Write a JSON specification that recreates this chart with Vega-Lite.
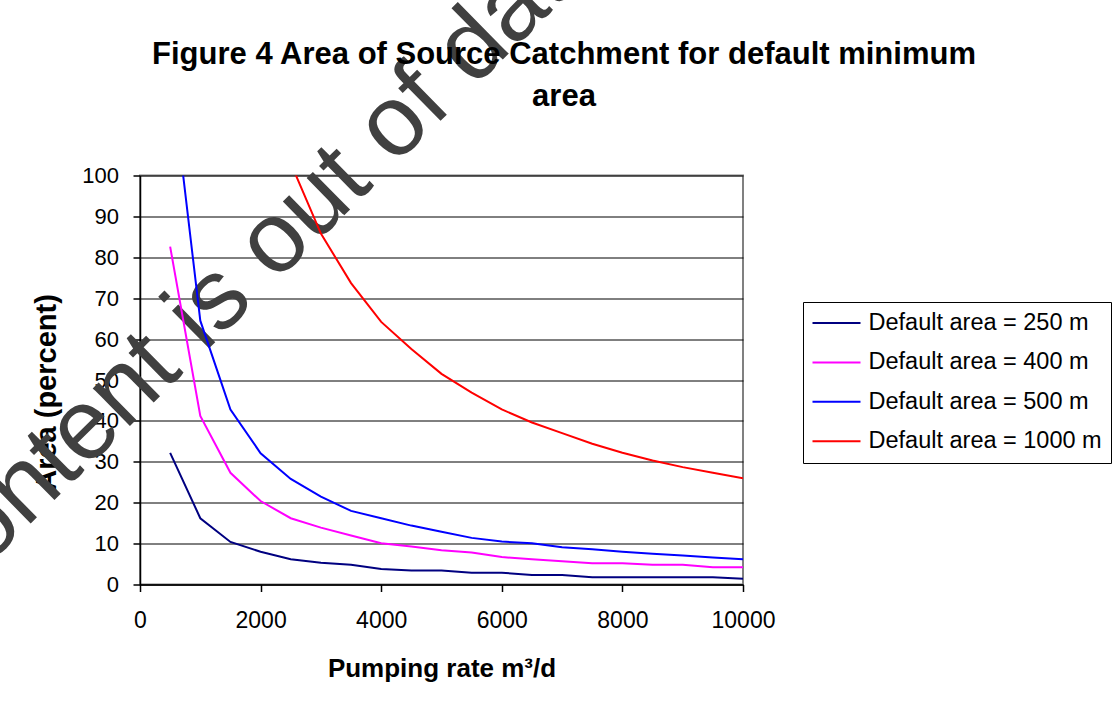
{
  "$schema": "https://vega.github.io/schema/vega-lite/v6.json",
  "width": 603,
  "height": 409,
  "autosize": {"type": "none"},
  "padding": {"left": 140, "top": 175.5, "right": 377, "bottom": 126.5},
  "background": "white",
  "title": {
    "text": ["Figure 4 Area of Source Catchment for default minimum", "area"],
    "font": "Liberation Sans",
    "fontSize": 31,
    "fontWeight": "bold",
    "color": "black",
    "lineHeight": 42,
    "anchor": "middle",
    "frame": "group",
    "dx": 122.5,
    "offset": -219
  },
  "config": {
    "view": {"stroke": "#808080", "strokeWidth": 2},
    "font": "Liberation Sans"
  },
  "layer": [
    {
      "data": {"values": [{"label": "Content is out of date"}]},
      "mark": {"type": "text", "font": "Liberation Sans", "fontSize": 100, "angle": -44.5, "align": "center", "baseline": "alphabetic", "color": "#404040"},
      "encoding": {
        "x": {"datum": 2216, "type": "quantitative"},
        "y": {"datum": 73.3, "type": "quantitative"},
        "text": {"field": "label"}
      }
    },
    {
      "data": {"values": [
        {"series": "Default area = 250 m", "rate": 500, "area": 32.2},
        {"series": "Default area = 250 m", "rate": 1000, "area": 16.2},
        {"series": "Default area = 250 m", "rate": 1500, "area": 10.4},
        {"series": "Default area = 250 m", "rate": 2000, "area": 8.0},
        {"series": "Default area = 250 m", "rate": 2500, "area": 6.2},
        {"series": "Default area = 250 m", "rate": 3000, "area": 5.3},
        {"series": "Default area = 250 m", "rate": 3500, "area": 4.8},
        {"series": "Default area = 250 m", "rate": 4000, "area": 3.8},
        {"series": "Default area = 250 m", "rate": 4500, "area": 3.4},
        {"series": "Default area = 250 m", "rate": 5000, "area": 3.4},
        {"series": "Default area = 250 m", "rate": 5500, "area": 2.9},
        {"series": "Default area = 250 m", "rate": 6000, "area": 2.9},
        {"series": "Default area = 250 m", "rate": 6500, "area": 2.3},
        {"series": "Default area = 250 m", "rate": 7000, "area": 2.3},
        {"series": "Default area = 250 m", "rate": 7500, "area": 1.8},
        {"series": "Default area = 250 m", "rate": 8000, "area": 1.8},
        {"series": "Default area = 250 m", "rate": 8500, "area": 1.8},
        {"series": "Default area = 250 m", "rate": 9000, "area": 1.8},
        {"series": "Default area = 250 m", "rate": 9500, "area": 1.8},
        {"series": "Default area = 250 m", "rate": 10000, "area": 1.4},
        {"series": "Default area = 400 m", "rate": 500, "area": 82.6},
        {"series": "Default area = 400 m", "rate": 1000, "area": 41.2},
        {"series": "Default area = 400 m", "rate": 1500, "area": 27.3},
        {"series": "Default area = 400 m", "rate": 2000, "area": 20.4},
        {"series": "Default area = 400 m", "rate": 2500, "area": 16.2},
        {"series": "Default area = 400 m", "rate": 3000, "area": 13.9},
        {"series": "Default area = 400 m", "rate": 3500, "area": 12.0},
        {"series": "Default area = 400 m", "rate": 4000, "area": 10.1},
        {"series": "Default area = 400 m", "rate": 4500, "area": 9.3},
        {"series": "Default area = 400 m", "rate": 5000, "area": 8.4},
        {"series": "Default area = 400 m", "rate": 5500, "area": 7.8},
        {"series": "Default area = 400 m", "rate": 6000, "area": 6.7},
        {"series": "Default area = 400 m", "rate": 6500, "area": 6.2},
        {"series": "Default area = 400 m", "rate": 7000, "area": 5.7},
        {"series": "Default area = 400 m", "rate": 7500, "area": 5.2},
        {"series": "Default area = 400 m", "rate": 8000, "area": 5.2},
        {"series": "Default area = 400 m", "rate": 8500, "area": 4.8},
        {"series": "Default area = 400 m", "rate": 9000, "area": 4.8},
        {"series": "Default area = 400 m", "rate": 9500, "area": 4.2},
        {"series": "Default area = 400 m", "rate": 10000, "area": 4.2},
        {"series": "Default area = 500 m", "rate": 500, "area": 127},
        {"series": "Default area = 500 m", "rate": 1000, "area": 64.5},
        {"series": "Default area = 500 m", "rate": 1500, "area": 42.8},
        {"series": "Default area = 500 m", "rate": 2000, "area": 32.1},
        {"series": "Default area = 500 m", "rate": 2500, "area": 25.8},
        {"series": "Default area = 500 m", "rate": 3000, "area": 21.5},
        {"series": "Default area = 500 m", "rate": 3500, "area": 18.0},
        {"series": "Default area = 500 m", "rate": 4000, "area": 16.2},
        {"series": "Default area = 500 m", "rate": 4500, "area": 14.4},
        {"series": "Default area = 500 m", "rate": 5000, "area": 12.9},
        {"series": "Default area = 500 m", "rate": 5500, "area": 11.4},
        {"series": "Default area = 500 m", "rate": 6000, "area": 10.5},
        {"series": "Default area = 500 m", "rate": 6500, "area": 10.1},
        {"series": "Default area = 500 m", "rate": 7000, "area": 9.1},
        {"series": "Default area = 500 m", "rate": 7500, "area": 8.6},
        {"series": "Default area = 500 m", "rate": 8000, "area": 8.0},
        {"series": "Default area = 500 m", "rate": 8500, "area": 7.5},
        {"series": "Default area = 500 m", "rate": 9000, "area": 7.1},
        {"series": "Default area = 500 m", "rate": 9500, "area": 6.6},
        {"series": "Default area = 500 m", "rate": 10000, "area": 6.2},
        {"series": "Default area = 1000 m", "rate": 2500, "area": 103},
        {"series": "Default area = 1000 m", "rate": 3000, "area": 85.8},
        {"series": "Default area = 1000 m", "rate": 3500, "area": 73.7},
        {"series": "Default area = 1000 m", "rate": 4000, "area": 64.2},
        {"series": "Default area = 1000 m", "rate": 4500, "area": 57.6},
        {"series": "Default area = 1000 m", "rate": 5000, "area": 51.5},
        {"series": "Default area = 1000 m", "rate": 5500, "area": 46.9},
        {"series": "Default area = 1000 m", "rate": 6000, "area": 42.8},
        {"series": "Default area = 1000 m", "rate": 6500, "area": 39.6},
        {"series": "Default area = 1000 m", "rate": 7000, "area": 37.0},
        {"series": "Default area = 1000 m", "rate": 7500, "area": 34.4},
        {"series": "Default area = 1000 m", "rate": 8000, "area": 32.2},
        {"series": "Default area = 1000 m", "rate": 8500, "area": 30.3},
        {"series": "Default area = 1000 m", "rate": 9000, "area": 28.7},
        {"series": "Default area = 1000 m", "rate": 9500, "area": 27.3},
        {"series": "Default area = 1000 m", "rate": 10000, "area": 26.0}
      ]},
      "mark": {"type": "line", "clip": true, "strokeWidth": 2},
      "encoding": {
        "x": {
          "field": "rate", "type": "quantitative",
          "scale": {"domain": [0, 10000], "nice": false, "zero": false},
          "axis": {
            "title": "Pumping rate m³/d",
            "values": [0, 2000, 4000, 6000, 8000, 10000],
            "format": "d",
            "grid": false,
            "tickSize": 7, "tickColor": "black", "tickWidth": 1.5,
            "domainColor": "black", "domainWidth": 1.5,
            "labelFontSize": 23, "labelColor": "black", "labelPadding": 17.5,
            "labelFlush": false, "labelOverlap": false,
            "titleFontSize": 26, "titleFontWeight": "bold", "titleColor": "black", "titlePadding": 23
          }
        },
        "y": {
          "field": "area", "type": "quantitative",
          "scale": {"domain": [0, 100], "nice": false},
          "axis": {
            "title": "Area (percent)",
            "values": [0, 10, 20, 30, 40, 50, 60, 70, 80, 90, 100],
            "grid": true, "gridColor": "black", "gridWidth": 1, "gridOpacity": 1,
            "tickSize": 7, "tickColor": "black", "tickWidth": 1.5,
            "domainColor": "black", "domainWidth": 1.5,
            "labelFontSize": 22, "labelColor": "black", "labelPadding": 14.5,
            "labelOverlap": false,
            "titleFontSize": 29, "titleFontWeight": "bold", "titleColor": "black", "titlePadding": 20,
            "titleY": 216.5
          }
        },
        "color": {
          "field": "series", "type": "nominal",
          "scale": {
            "domain": ["Default area = 250 m", "Default area = 400 m", "Default area = 500 m", "Default area = 1000 m"],
            "range": ["#000080", "#FF00FF", "#0000FF", "#FF0000"]
          },
          "legend": {
            "title": null,
            "orient": "none",
            "legendX": 663,
            "legendY": 126.5,
            "symbolType": "stroke",
            "symbolSize": 2304,
            "symbolStrokeWidth": 2,
            "labelFontSize": 23.5,
            "labelColor": "black",
            "labelOffset": 7,
            "labelLimit": 0,
            "clipHeight": 25,
            "rowPadding": 14.4,
            "padding": 8.5,
            "strokeColor": "black",
            "fillColor": "white"
          }
        }
      }
    }
  ]
}
